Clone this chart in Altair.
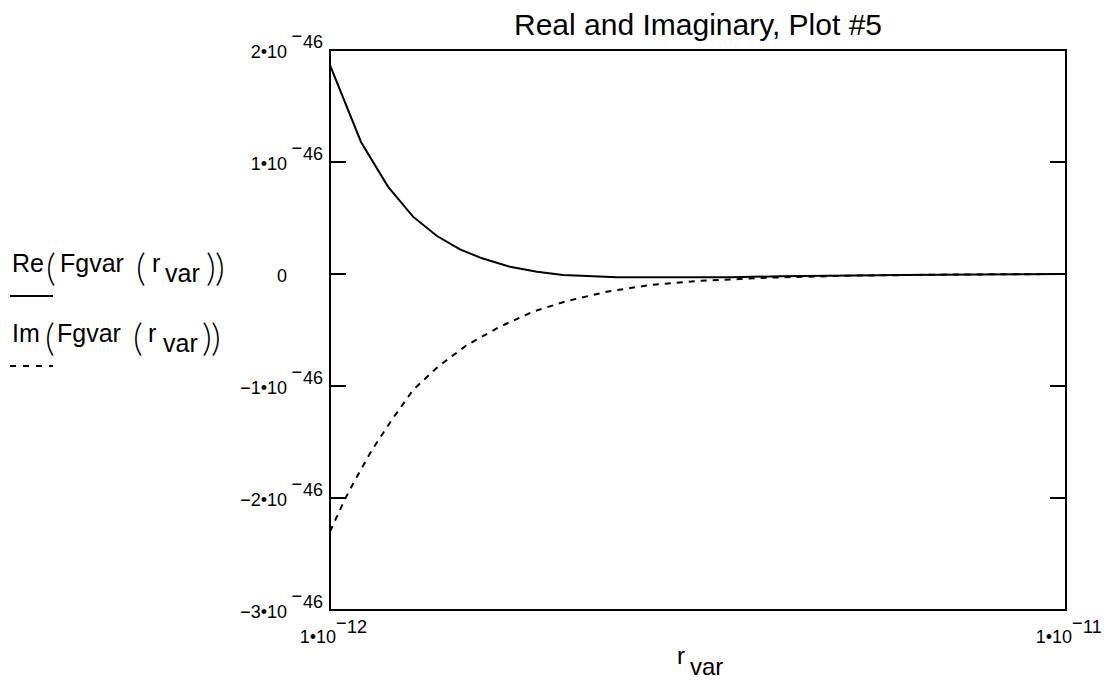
import altair as alt
import pandas as pd

FONT = "Liberation Sans"
PAREN_FONT = "Lato"

# ---- data ----
re_r = [1.000e-12, 1.379e-12, 1.709e-12, 2.015e-12, 2.308e-12, 2.590e-12, 2.859e-12,
        3.201e-12, 3.531e-12, 3.849e-12, 4.509e-12, 5.891e-12, 6.503e-12, 7.970e-12, 1.000e-11]
re_val = [1.866e-46, 1.179e-46, 0.780e-46, 0.512e-46, 0.339e-46, 0.220e-46, 0.140e-46,
          0.065e-46, 0.020e-46, -0.009e-46, -0.028e-46, -0.030e-46, -0.020e-46, -0.010e-46, 0.0]

im_r = [1.000e-12, 1.183e-12, 1.306e-12, 1.514e-12, 1.758e-12, 2.015e-12, 2.321e-12,
        2.675e-12, 3.079e-12, 3.482e-12, 3.898e-12, 4.387e-12, 4.913e-12, 5.488e-12,
        6.344e-12, 7.359e-12, 8.582e-12, 1.000e-11]
im_val = [-2.30e-46, -2.01e-46, -1.84e-46, -1.57e-46, -1.30e-46, -1.036e-46, -0.827e-46,
          -0.634e-46, -0.470e-46, -0.336e-46, -0.241e-46, -0.158e-46, -0.098e-46, -0.0625e-46,
          -0.033e-46, -0.015e-46, -0.005e-46, 0.0]

y_tick_vals = [2e-46, 1e-46, 0.0, -1e-46, -2e-46, -3e-46]
y_tick_mant = ["2\u202210", "1\u202210", "0", "\u22121\u202210", "\u22122\u202210", "\u22123\u202210"]
y_tick_exp = ["46", "46", "", "46", "46", "46"]
y_tick_dash = ["\u2212", "\u2212", "", "\u2212", "\u2212", "\u2212"]
inner_ticks = [1e-46, 0.0, -1e-46, -2e-46]

x_tick_vals = [1e-12, 1e-11]
x_tick_mant = ["1\u202210", "1\u202210"]
x_tick_exp = ["12", "11"]

title_text = "Real and Imaginary, Plot #5"

W, H = 736, 560

xs = alt.Scale(domain=[1e-12, 1e-11], nice=False, zero=False)
ys = alt.Scale(domain=[-3e-46, 2e-46], nice=False, zero=False)

re_df = pd.DataFrame({"r": re_r, "v": re_val})
im_df = pd.DataFrame({"r": im_r, "v": im_val})
ytk = pd.DataFrame({"v": y_tick_vals, "mant": y_tick_mant, "exp": y_tick_exp, "dash": y_tick_dash})
itk = pd.DataFrame({"v": inner_ticks})
xtk = pd.DataFrame({"r": x_tick_vals, "mant": x_tick_mant, "exp": x_tick_exp,
                    "dash": ["\u2212", "\u2212"]})
dummy = pd.DataFrame({"a": [0]})

re_line = alt.Chart(re_df).mark_line(color="black", strokeWidth=2).encode(
    x=alt.X("r:Q", scale=xs, axis=None), y=alt.Y("v:Q", scale=ys, axis=None))
im_line = alt.Chart(im_df).mark_line(color="black", strokeWidth=2, strokeDash=[6, 6]).encode(
    x=alt.X("r:Q", scale=xs, axis=None), y=alt.Y("v:Q", scale=ys, axis=None))

left_ticks = alt.Chart(itk).mark_rule(color="black", strokeWidth=2).encode(
    y=alt.Y("v:Q", scale=ys, axis=None), x=alt.value(0), x2=alt.value(16))
right_ticks = alt.Chart(itk).mark_rule(color="black", strokeWidth=2).encode(
    y=alt.Y("v:Q", scale=ys, axis=None), x=alt.value(W - 16), x2=alt.value(W))


def ytext(field, dx, dy, align="right", size=18):
    return alt.Chart(ytk).mark_text(font=FONT, fontSize=size, align=align, baseline="alphabetic",
                                    dx=dx, dy=dy, color="black").encode(
        y=alt.Y("v:Q", scale=ys, axis=None), x=alt.value(0), text=f"{field}:N")


def xtext(field, dx, dy, align="left", size=18):
    return alt.Chart(xtk).mark_text(font=FONT, fontSize=size, align=align, baseline="alphabetic",
                                    dx=dx, dy=dy, color="black").encode(
        x=alt.X("r:Q", scale=xs, axis=None), y=alt.value(H), text=f"{field}:N")


ylab_main = ytext("mant", -43, 8)
ylab_exp = ytext("exp", -7, -2)
ylab_dash = ytext("dash", -28, -8)

xlab_main = xtext("mant", 6, 33, align="right")
xlab_dash = xtext("dash", 6, 19)
xlab_exp = xtext("exp", 17, 23)


def label(txt, x, y, size=25, align="left", font=FONT, weight="normal"):
    return alt.Chart(dummy).mark_text(text=txt, font=font, fontSize=size, align=align,
                                      fontWeight=weight, baseline="alphabetic",
                                      color="black").encode(
        x=alt.value(x), y=alt.value(y))


def paren(txt, x, y):
    return label(txt, x, y, size=38, font=PAREN_FONT, weight=300)


def swatch(y, dash=None):
    kw = dict(color="black", strokeWidth=2)
    if dash:
        kw["strokeDash"] = dash
    return alt.Chart(dummy).mark_rule(**kw).encode(
        x=alt.value(-320), x2=alt.value(-277), y=alt.value(y))


legend = [
    label("Re", -318, 222), paren("(", -284, 231), label("Fgvar", -270, 222),
    paren("(", -194, 231), label("r", -178, 222), label("var", -165, 232),
    paren(")", -124, 231), paren(")", -115, 231), swatch(246),
    label("Im", -318, 292), paren("(", -285, 301), label("Fgvar", -273, 292),
    paren("(", -197, 301), label("r", -182, 292), label("var", -167, 302),
    paren(")", -128, 301), paren(")", -119, 301), swatch(316, [6, 7]),
]

title = label(title_text, W / 2, -15, 30, "center")
xtitle = [label("r", 347, 614, 24), label("var", 360, 625, 24)]

chart = alt.layer(
    re_line, im_line, left_ticks, right_ticks,
    ylab_main, ylab_exp, ylab_dash, xlab_main, xlab_dash, xlab_exp,
    title, *xtitle, *legend,
).properties(
    width=W, height=H,
    autosize=alt.AutoSizeParams(type="none"),
    padding={"left": 322, "top": 42, "right": 36, "bottom": 70},
).configure_view(stroke="black", strokeWidth=2)

chart.save("out.html", embed_options={"renderer": "svg", "actions": False})
